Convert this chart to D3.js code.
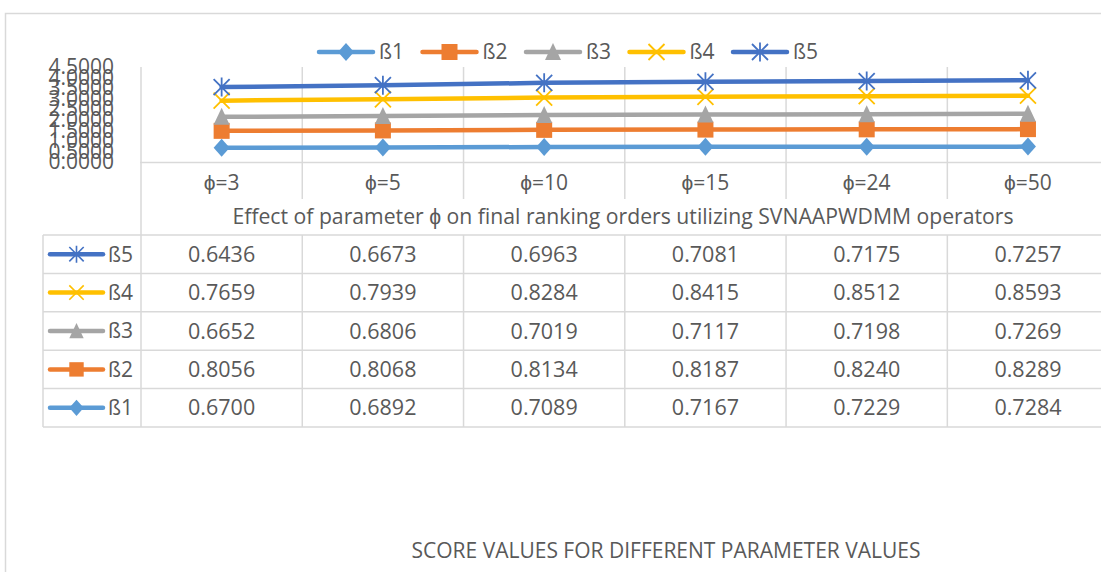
<!DOCTYPE html>
<html>
<head>
<meta charset="utf-8">
<script src="https://cdn.jsdelivr.net/npm/d3@7"></script>
<style>
  html, body { margin: 0; padding: 0; background: #fff; }
  svg { display: block; font-family: "Open Sans", sans-serif; }
</style>
</head>
<body>
<svg id="chart" width="1101" height="572"></svg>
<script>
// Parameter settings (x categories)
const categories = ["ϕ=3", "ϕ=5", "ϕ=10", "ϕ=15", "ϕ=24", "ϕ=50"];
// Score values per alternative
const b1 = [0.6700, 0.6892, 0.7089, 0.7167, 0.7229, 0.7284];
const b2 = [0.8056, 0.8068, 0.8134, 0.8187, 0.8240, 0.8289];
const b3 = [0.6652, 0.6806, 0.7019, 0.7117, 0.7198, 0.7269];
const b4 = [0.7659, 0.7939, 0.8284, 0.8415, 0.8512, 0.8593];
const b5 = [0.6436, 0.6673, 0.6963, 0.7081, 0.7175, 0.7257];
const seriesNames = ["ß1", "ß2", "ß3", "ß4", "ß5"];
const yTicks = [0, 0.5, 1, 1.5, 2, 2.5, 3, 3.5, 4, 4.5];
const axisTitle = "Effect of parameter ϕ on final ranking orders utilizing SVNAAPWDMM operators";
const chartTitle = "SCORE VALUES FOR DIFFERENT PARAMETER VALUES";

const seriesValues = [b1, b2, b3, b4, b5];
const colors = ["#5b9bd5", "#ed7d31", "#a5a5a5", "#ffc000", "#4472c4"];
const markerKinds = ["diamond", "square", "triangle", "x", "star"];
const textColor = "#595959";
const gridColor = "#d9d9d9";

const svg = d3.select("#chart");

// Stacked line layout
const rows = categories.map((c, i) => {
  const r = { cat: c };
  seriesNames.forEach((s, k) => r[s] = seriesValues[k][i]);
  return r;
});
const stacked = d3.stack().keys(seriesNames)(rows);

const x = d3.scaleBand().domain(categories).range([141, 1108.6]).paddingInner(0).paddingOuter(0);
const y = d3.scaleLinear().domain([0, 4.5]).range([162, 67]);
const cx = c => x(c) + x.bandwidth() / 2;

// Outer chart frame
svg.append("path")
  .attr("d", "M5.5,572 L5.5,13.5 L1101,13.5")
  .attr("fill", "none").attr("stroke", gridColor).attr("stroke-width", 1.5);

// Marker drawing
function marker(g, kind, color) {
  if (kind === "diamond") {
    g.append("path").attr("d", "M0,-9 L8,0 L0,9 L-8,0 Z").attr("fill", color);
  } else if (kind === "square") {
    g.append("rect").attr("x", -8).attr("y", -8).attr("width", 16).attr("height", 16).attr("fill", color);
  } else if (kind === "triangle") {
    g.append("path").attr("d", "M0,-9 L8,8 L-8,8 Z").attr("fill", color);
  } else if (kind === "x") {
    g.append("path").attr("d", "M-8,-8 L8,8 M-8,8 L8,-8").attr("stroke", color).attr("stroke-width", 1.8).attr("fill", "none");
  } else if (kind === "star") {
    g.append("path").attr("d", "M-8,-8 L8,8 M-8,8 L8,-8 M0,-9.5 L0,9.5").attr("stroke", color).attr("stroke-width", 1.8).attr("fill", "none");
  }
}

// Vertical gridlines through plot and category row
const bounds = d3.range(categories.length + 1).map(i => 141 + i * x.bandwidth());
svg.append("g").selectAll("line").data(bounds).join("line")
  .attr("x1", d => d).attr("x2", d => d)
  .attr("y1", 67).attr("y2", (d, i) => i === 0 ? 427 : 199)
  .attr("stroke", gridColor).attr("stroke-width", 1.5);

// Category axis line
svg.append("line").attr("x1", 140).attr("x2", 1101).attr("y1", 162.5).attr("y2", 162.5)
  .attr("stroke", gridColor).attr("stroke-width", 1.5);

// Y axis labels
const yAxis = d3.axisLeft(y).tickValues(yTicks).tickFormat(d3.format(".4f")).tickSize(0).tickPadding(0);
const ya = svg.append("g").attr("transform", "translate(114,0)").call(yAxis);
ya.select(".domain").remove();
ya.selectAll("text").attr("fill", textColor).style("font-size", "21px").style("font-family", "'Open Sans', sans-serif");

// Category labels
svg.append("g").selectAll("text").data(categories).join("text")
  .attr("x", d => cx(d)).attr("y", 183).attr("dy", "0.35em")
  .attr("text-anchor", "middle").attr("fill", textColor).style("font-size", "21px").text(d => d);

// Axis title
svg.append("text").attr("x", 623).attr("y", 217).attr("dy", "0.35em")
  .attr("text-anchor", "middle").attr("fill", textColor).style("font-size", "21.2px").text(axisTitle);

// Lines and markers
const line = d3.line().x(d => cx(d.data.cat)).y(d => y(d[1]));
stacked.forEach((s, k) => {
  svg.append("path").datum(s).attr("d", line).attr("fill", "none")
    .attr("stroke", colors[k]).attr("stroke-width", 4.5).attr("stroke-linecap", "round");
  s.forEach(d => {
    const g = svg.append("g").attr("transform", `translate(${cx(d.data.cat)},${y(d[1])})`);
    marker(g, markerKinds[k], colors[k]);
  });
});

// Legend
const legend = svg.append("g");
seriesNames.forEach((name, k) => {
  const x0 = 319 + k * 103.5;
  const g = legend.append("g").attr("transform", `translate(${x0},52)`);
  g.append("line").attr("x1", 0).attr("x2", 54).attr("stroke", colors[k]).attr("stroke-width", 4.5).attr("stroke-linecap", "round");
  const m = g.append("g").attr("transform", "translate(27,0)");
  marker(m, markerKinds[k], colors[k]);
  g.append("text").attr("x", 60).attr("dy", "0.35em").attr("fill", textColor).style("font-size", "21px").text(name);
});

// Data table
const rowTops = [235, 273.4, 311.8, 350.2, 388.6, 427];
const tableOrder = [4, 3, 2, 1, 0];
svg.append("g").selectAll("line").data(rowTops).join("line")
  .attr("x1", 43).attr("x2", 1101).attr("y1", d => d).attr("y2", d => d)
  .attr("stroke", gridColor).attr("stroke-width", 1.5);
svg.append("g").selectAll("line").data([43].concat(bounds.slice(1))).join("line")
  .attr("x1", d => d).attr("x2", d => d).attr("y1", 235).attr("y2", 427)
  .attr("stroke", gridColor).attr("stroke-width", 1.5);

tableOrder.forEach((k, r) => {
  const yc = (rowTops[r] + rowTops[r + 1]) / 2;
  const key = svg.append("g").attr("transform", `translate(50,${yc})`);
  key.append("line").attr("x1", 0).attr("x2", 53).attr("stroke", colors[k]).attr("stroke-width", 4.5).attr("stroke-linecap", "round");
  const m = key.append("g").attr("transform", "translate(26.5,0) scale(0.9)");
  marker(m, markerKinds[k], colors[k]);
  key.append("text").attr("x", 58).attr("dy", "0.35em").attr("fill", textColor).style("font-size", "21px").text(seriesNames[k]);
  svg.append("g").selectAll("text").data(seriesValues[k]).join("text")
    .attr("x", (d, i) => cx(categories[i])).attr("y", yc).attr("dy", "0.35em")
    .attr("text-anchor", "middle").attr("fill", textColor).style("font-size", "21.5px")
    .text(d => d3.format(".4f")(d));
});

// Chart title
svg.append("text").attr("x", 666).attr("y", 551).attr("dy", "0.35em")
  .attr("text-anchor", "middle").attr("fill", textColor).style("font-size", "21px").text(chartTitle);
</script>
</body>
</html>
